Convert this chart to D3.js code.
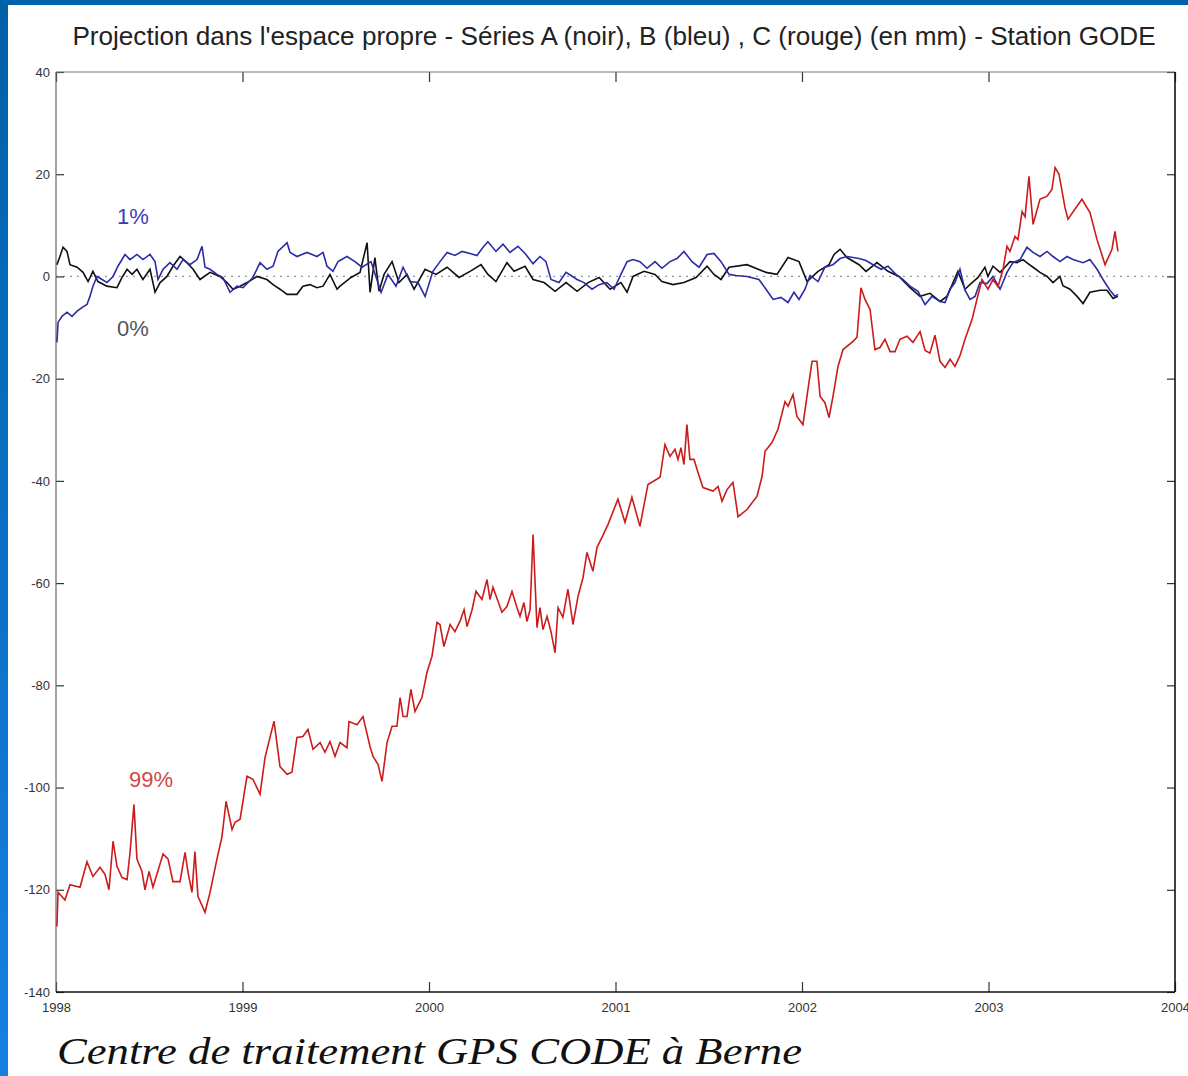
<!DOCTYPE html>
<html><head><meta charset="utf-8">
<script src="https://cdn.jsdelivr.net/npm/d3@7"></script>
<style>html,body{margin:0;padding:0;background:#fff;overflow:hidden}</style>
</head><body>
<svg id="chart" width="1188" height="1076"></svg>
<script>
// ---------- DATA ----------
const titleText = "Projection dans l'espace propre - Séries A (noir), B (bleu) , C (rouge) (en mm) - Station GODE";
const captionText = "Centre de traitement GPS CODE à Berne";
const xTicks = [1998, 1999, 2000, 2001, 2002, 2003, 2004];
const yTicks = [-140, -120, -100, -80, -60, -40, -20, 0, 20, 40];
const seriesLabels = ["0%", "1%", "99%"];

// Series C (rouge)
const redYears = [1998.005,1998.011,1998.048,1998.075,1998.129,1998.166,1998.198,1998.236,1998.263,1998.284,1998.306,1998.327,1998.354,1998.381,1998.397,1998.418,1998.434,1998.461,1998.477,1998.499,1998.520,1998.574,1998.601,1998.627,1998.665,1998.692,1998.708,1998.729,1998.745,1998.761,1998.799,1998.826,1998.863,1998.890,1998.912,1998.944,1998.960,1998.987,1999.024,1999.056,1999.094,1999.121,1999.169,1999.201,1999.239,1999.265,1999.292,1999.324,1999.351,1999.378,1999.416,1999.442,1999.469,1999.496,1999.523,1999.560,1999.571,1999.614,1999.646,1999.684,1999.700,1999.727,1999.748,1999.775,1999.802,1999.828,1999.845,1999.861,1999.882,1999.903,1999.925,1999.962,1999.989,2000.016,2000.043,2000.059,2000.080,2000.113,2000.139,2000.166,2000.188,2000.204,2000.231,2000.252,2000.284,2000.311,2000.327,2000.343,2000.391,2000.418,2000.445,2000.472,2000.488,2000.509,2000.525,2000.542,2000.558,2000.579,2000.595,2000.611,2000.633,2000.654,2000.676,2000.692,2000.718,2000.745,2000.772,2000.799,2000.826,2000.847,2000.879,2000.901,2000.928,2000.960,2001.013,2001.051,2001.088,2001.131,2001.174,2001.239,2001.265,2001.292,2001.319,2001.335,2001.351,2001.367,2001.383,2001.399,2001.421,2001.442,2001.469,2001.523,2001.550,2001.571,2001.598,2001.630,2001.657,2001.705,2001.759,2001.786,2001.802,2001.839,2001.871,2001.909,2001.925,2001.952,2001.973,2002.005,2002.032,2002.054,2002.080,2002.097,2002.123,2002.145,2002.166,2002.193,2002.220,2002.274,2002.295,2002.316,2002.338,2002.365,2002.391,2002.418,2002.445,2002.472,2002.499,2002.525,2002.563,2002.595,2002.633,2002.660,2002.686,2002.713,2002.740,2002.767,2002.794,2002.820,2002.847,2002.874,2002.912,2002.938,2002.965,2002.997,2003.024,2003.051,2003.078,2003.099,2003.115,2003.142,2003.158,2003.180,2003.196,2003.217,2003.239,2003.276,2003.314,2003.340,2003.357,2003.378,2003.410,2003.426,2003.501,2003.544,2003.582,2003.625,2003.662,2003.678,2003.694];
const redValues = [-127.2,-120.5,-122,-119,-119.5,-114.5,-117.4,-115.6,-117,-120,-110.5,-115.4,-117.6,-118,-112.7,-103.3,-114,-116.4,-120,-116.4,-119.5,-113,-114,-118.4,-118.4,-112.7,-116.6,-120.5,-112.5,-121.3,-124.4,-120.5,-114,-109.6,-102.7,-108.2,-106.8,-106.2,-97.8,-98.4,-101.3,-94.1,-87,-95.9,-97.4,-97,-90.2,-90,-88.6,-92.5,-91.2,-93.1,-91,-93.9,-91.2,-92.2,-87.1,-87.7,-86.1,-92,-93.9,-95.5,-98.8,-91.2,-88,-88,-82.4,-86.1,-86.1,-80.8,-85.1,-82.4,-77.5,-74.3,-67.7,-68.1,-72.4,-68.1,-69.5,-67.5,-65.2,-68.5,-65.2,-61.6,-63.2,-59.3,-63.2,-60.8,-65.7,-64.6,-61.6,-64.8,-66.5,-63.8,-67.5,-65.2,-50.5,-68.7,-64.8,-69.1,-66.5,-69.5,-73.6,-64.8,-66.7,-61.2,-68.1,-62.6,-58.9,-54,-57.7,-53,-51,-48.5,-43.6,-48.1,-43.2,-48.9,-40.7,-39.3,-32.9,-35.2,-33.8,-35.8,-33.5,-36.8,-29,-35.8,-35.8,-38.3,-41.3,-42,-41.1,-44,-41.7,-40.3,-47,-45.6,-43,-39.1,-34.2,-32.5,-29.9,-24.5,-25.4,-23.1,-27.4,-29,-22.1,-16.6,-16.6,-23.5,-24.7,-27.6,-23.5,-17.6,-14.3,-12.7,-11.9,-2.2,-4.5,-6.5,-14.3,-13.9,-12.3,-14.7,-14.7,-12.3,-11.7,-12.9,-10.8,-14.5,-15,-11.5,-16.6,-17.8,-16.2,-17.6,-15.5,-12.3,-8.4,-4.5,-0.6,-2.5,-0.6,-2,1.4,5.9,4.9,7.8,7.2,12.7,11.7,19.6,10.2,15.1,15.7,17,21.3,20,13.5,11.2,15.1,12.5,7.2,2.3,5.3,8.8,4.9];

// Series A (noir)
const blackYears = [1998.005,1998.021,1998.038,1998.059,1998.075,1998.113,1998.145,1998.172,1998.198,1998.225,1998.273,1998.327,1998.354,1998.381,1998.408,1998.434,1998.466,1998.504,1998.531,1998.558,1998.595,1998.627,1998.665,1998.702,1998.735,1998.772,1998.826,1998.879,1998.917,1998.949,1998.987,1999.024,1999.078,1999.131,1999.164,1999.201,1999.239,1999.292,1999.324,1999.362,1999.399,1999.432,1999.469,1999.507,1999.523,1999.582,1999.630,1999.668,1999.684,1999.710,1999.732,1999.759,1999.802,1999.839,1999.882,1999.920,1999.979,2000.038,2000.097,2000.161,2000.220,2000.279,2000.316,2000.359,2000.418,2000.456,2000.515,2000.558,2000.617,2000.676,2000.735,2000.794,2000.853,2000.912,2000.971,2001.029,2001.062,2001.094,2001.153,2001.212,2001.249,2001.308,2001.367,2001.432,2001.491,2001.528,2001.566,2001.609,2001.705,2001.807,2001.866,2001.925,2001.984,2002.027,2002.086,2002.145,2002.172,2002.204,2002.241,2002.306,2002.343,2002.402,2002.461,2002.520,2002.579,2002.633,2002.686,2002.740,2002.777,2002.810,2002.836,2002.874,2002.912,2002.944,2002.981,2002.997,2003.024,2003.062,2003.088,2003.115,2003.153,2003.185,2003.212,2003.239,2003.276,2003.314,2003.346,2003.383,2003.399,2003.437,2003.475,2003.507,2003.544,2003.598,2003.635,2003.668,2003.694];
const blackValues = [2.3,3.9,5.7,4.9,2.3,1.8,0.8,-1,1,-1,-1.9,-2.2,-0.2,1.4,0.4,1.4,-0.6,1.4,-3.1,-1.2,0,2,3.9,2.7,1.4,-0.6,0.8,0,-1.2,-2.5,-1.9,-1.2,0,-0.6,-1.6,-2.5,-3.5,-3.5,-1.9,-1.6,-2.2,-1.9,0.4,-2.5,-1.9,-0.2,0.8,6.6,-3.1,3.7,-2.9,0.4,2.9,-1.2,0.4,-2.5,1.4,0.4,1.8,-0.2,1,2.3,0.4,-1,2.7,1,2,-0.6,-1.2,-2.9,-1.2,-2.9,-1.2,-0.2,-2.5,-1.2,-3.1,0,1,0.4,-1,-1.6,-1.2,-0.2,2,0.4,-0.6,1.8,2.3,0.8,0.4,3.7,2.9,-1,1,2.3,4.3,5.3,3.7,2.3,1,2.7,1,0,-2.2,-3.9,-3.3,-4.9,-3.9,-1.2,1,-2.5,-1.2,-0.2,1.8,0,2,0.8,1.8,2.9,2.7,3.3,2.5,1.8,0.8,0,-1.2,0,-1.8,-2.5,-3.9,-5.3,-3.1,-2.7,-2.7,-4.3,-3.9];

// Series B (bleu)
const blueYears = [1998.005,1998.011,1998.032,1998.059,1998.086,1998.113,1998.139,1998.166,1998.182,1998.198,1998.220,1998.247,1998.273,1998.306,1998.332,1998.370,1998.397,1998.434,1998.466,1998.504,1998.531,1998.547,1998.574,1998.611,1998.649,1998.681,1998.718,1998.756,1998.783,1998.799,1998.826,1998.863,1998.895,1998.933,1998.971,1999.003,1999.056,1999.094,1999.131,1999.164,1999.190,1999.239,1999.255,1999.292,1999.346,1999.399,1999.432,1999.453,1999.485,1999.512,1999.560,1999.603,1999.641,1999.689,1999.743,1999.780,1999.823,1999.861,1999.898,1999.941,1999.979,2000.021,2000.059,2000.097,2000.139,2000.177,2000.220,2000.257,2000.290,2000.316,2000.359,2000.397,2000.434,2000.477,2000.515,2000.558,2000.595,2000.627,2000.654,2000.697,2000.735,2000.794,2000.831,2000.874,2000.912,2000.954,2000.992,2001.029,2001.062,2001.094,2001.131,2001.169,2001.212,2001.249,2001.292,2001.330,2001.367,2001.410,2001.448,2001.491,2001.528,2001.566,2001.609,2001.646,2001.705,2001.769,2001.807,2001.845,2001.887,2001.925,2001.957,2001.984,2002.016,2002.043,2002.086,2002.123,2002.166,2002.204,2002.241,2002.306,2002.343,2002.381,2002.424,2002.461,2002.504,2002.542,2002.579,2002.622,2002.660,2002.697,2002.740,2002.767,2002.794,2002.820,2002.847,2002.874,2002.901,2002.928,2002.954,2002.992,2003.024,2003.062,2003.099,2003.131,2003.169,2003.206,2003.239,2003.276,2003.314,2003.346,2003.383,2003.421,2003.453,2003.507,2003.544,2003.582,2003.614,2003.651,2003.678,2003.694];
const blueValues = [-12.9,-9,-7.8,-7,-7.8,-6.8,-6.1,-5.5,-3.9,-1.9,0,-0.6,-1.2,0,2,4.3,3.3,4.3,3.3,4.3,2.9,-0.6,1.4,2.7,1.4,3.3,2.3,3.3,5.9,1.8,1.4,0.4,-0.2,-3.1,-1.9,-2.2,-0.2,2.7,1.4,2,4.9,6.6,4.7,3.9,4.7,3.9,4.7,2,1,2.9,3.9,2.9,1.8,2.9,-3.1,0.4,-1.9,1.8,-1,-1.2,-3.9,1,2.9,4.7,4.1,4.9,4.5,4.1,5.7,6.8,4.9,6.3,4.7,5.9,4.5,2.5,3.9,2.9,-0.6,-1.2,0.8,-0.6,-1.2,-2.5,-1.6,-1.2,-2.5,0.4,2.9,3.3,2.9,1.6,2.9,1.6,2.9,3.5,4.9,2.9,1.8,4.3,4.5,2.9,0.4,0.2,0,-0.6,-2.5,-4.5,-4.1,-5.1,-3.1,-4.5,-2.5,0.2,-1,1.8,2.3,3.5,3.9,3.5,3.1,2.3,1.4,2,0.4,-0.6,-1.9,-2.9,-5.5,-3.9,-4.9,-5.1,-2.5,-1.2,1.4,-2.7,-4.5,-3.9,-1.2,-1.4,0,-2.5,0.8,2.7,3.3,5.7,4.7,3.9,4.9,3.9,2.9,3.9,3.3,2.7,3.3,1.4,-0.6,-2.7,-3.9,-3.5];

// ---------- DRAW ----------
const W = 1188, H = 1076;
const svg = d3.select("#chart");

// blue slide frame
const defs = svg.append("defs");
const grad = defs.append("linearGradient").attr("id","leftBand").attr("x1",0).attr("y1",0).attr("x2",0).attr("y2",1);
grad.append("stop").attr("offset","0%").attr("stop-color","#0060a8");
grad.append("stop").attr("offset","100%").attr("stop-color","#1680e2");
svg.append("rect").attr("x",0).attr("y",0).attr("width",W).attr("height",5).attr("fill","#0062ab");
svg.append("rect").attr("x",0).attr("y",0).attr("width",8).attr("height",H).attr("fill","url(#leftBand)");

const mLeft = 56, mRight = 1175, mTop = 72, mBottom = 992;
const x = d3.scaleLinear().domain([1998, 2004]).range([mLeft, mRight]);
const y = d3.scaleLinear().domain([-140, 40]).range([mBottom, mTop]);

// title: font size fitted so the natural width spans the reference width
const title = svg.append("text").attr("x", 614).attr("y", 45).attr("text-anchor", "middle")
  .attr("font-family", "Liberation Sans, Arial, sans-serif").attr("font-size", 28)
  .attr("fill", "#222").text(titleText);
const tw = title.node().getComputedTextLength();
title.attr("font-size", Math.min(30, 28 * 1084 / tw));

// zero dotted line
svg.append("line").attr("x1", mLeft).attr("x2", mRight).attr("y1", y(0)).attr("y2", y(0))
  .attr("stroke", "#999").attr("stroke-width", 1.2).attr("stroke-dasharray", "2,5");

// axes
const fontAxis = "Liberation Sans, Arial, sans-serif";
const fmt = d => String(d);
function styleAxis(g){
  g.select(".domain").remove();
  g.selectAll(".tick line").attr("stroke", "#333").attr("stroke-width", 1.2);
  g.selectAll(".tick text").attr("fill", "#333").attr("font-family", fontAxis).attr("font-size", 13);
}
svg.append("g").attr("transform", `translate(${mLeft},0)`)
  .call(d3.axisLeft(y).tickValues(yTicks).tickSize(-8).tickPadding(6).tickFormat(fmt))
  .call(styleAxis);
svg.append("g").attr("transform", `translate(${mRight},0)`)
  .call(d3.axisRight(y).tickValues(yTicks).tickSize(-8).tickFormat(""))
  .call(styleAxis);
svg.append("g").attr("transform", `translate(0,${mBottom})`)
  .call(d3.axisBottom(x).tickValues(xTicks).tickSize(-10).tickPadding(11).tickFormat(fmt))
  .call(styleAxis);
svg.append("g").attr("transform", `translate(0,${mTop})`)
  .call(d3.axisTop(x).tickValues(xTicks).tickSize(-10).tickFormat(""))
  .call(styleAxis);

// frame
svg.append("line").attr("x1",mLeft).attr("x2",mRight).attr("y1",mTop).attr("y2",mTop).attr("stroke","#777").attr("stroke-width",1.2);
svg.append("line").attr("x1",mLeft).attr("x2",mLeft).attr("y1",mTop).attr("y2",mBottom).attr("stroke","#666").attr("stroke-width",1.2);
svg.append("line").attr("x1",mLeft).attr("x2",mRight).attr("y1",mBottom).attr("y2",mBottom).attr("stroke","#111").attr("stroke-width",1.6);
svg.append("line").attr("x1",mRight).attr("x2",mRight).attr("y1",mTop).attr("y2",mBottom).attr("stroke","#111").attr("stroke-width",1.6);

// series
const line = d3.line().x(d => x(d[0])).y(d => y(d[1]));
const series = [
  {years: blackYears, values: blackValues, color: "#111111"},
  {years: blueYears, values: blueValues, color: "#2b2ba6"},
  {years: redYears, values: redValues, color: "#cc1b1b"}
];
series.forEach(s => {
  const pts = s.years.map((t, i) => [t, s.values[i]]);
  svg.append("path").datum(pts).attr("d", line)
    .attr("fill", "none").attr("stroke", s.color).attr("stroke-width", 1.6)
    .attr("stroke-linejoin", "miter");
});

// labels
const labelFont = "Liberation Sans, Arial, sans-serif";
svg.append("text").attr("x", 117).attr("y", 224).attr("font-family", labelFont).attr("font-size", 22)
  .attr("fill", "#3c3cb4").text(seriesLabels[1]);
svg.append("text").attr("x", 117).attr("y", 336).attr("font-family", labelFont).attr("font-size", 22)
  .attr("fill", "#555").text(seriesLabels[0]);
svg.append("text").attr("x", 129).attr("y", 787).attr("font-family", labelFont).attr("font-size", 22)
  .attr("fill", "#cf4848").text(seriesLabels[2]);

// caption
svg.append("text").attr("x", 57).attr("y", 1064)
  .attr("font-family", "Liberation Serif, Times New Roman, serif").attr("font-style", "italic")
  .attr("font-size", 38).attr("fill", "#111").attr("textLength", 745).attr("lengthAdjust", "spacingAndGlyphs")
  .text(captionText);
</script>
</body></html>
